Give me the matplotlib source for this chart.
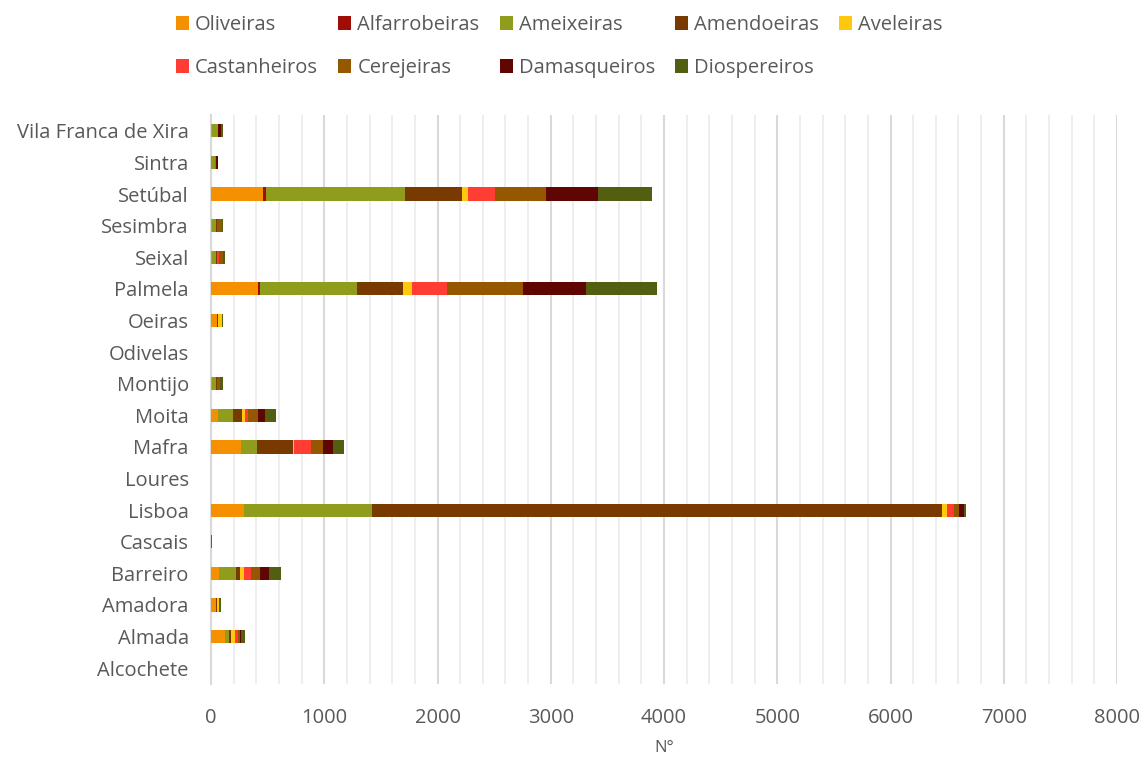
import numpy as np
import matplotlib
matplotlib.use('Agg')
import matplotlib.pyplot as plt

plt.rcParams['font.family'] = ['Open Sans', 'DejaVu Sans']

# concelhos, de baixo para cima
concelhos = ['Alcochete', 'Almada', 'Amadora', 'Barreiro', 'Cascais', 'Lisboa', 'Loures',
	'Mafra', 'Moita', 'Montijo', 'Odivelas', 'Oeiras', 'Palmela', 'Seixal', 'Sesimbra',
	'Setúbal', 'Sintra', 'Vila Franca de Xira']

oliveiras     = [0, 128, 40, 75, 0, 287, 0, 269, 66, 10, 0, 49, 419, 13, 10, 455, 0, 5]
alfarrobeiras = [0, 0, 0, 0, 0, 0, 0, 0, 0, 0, 0, 0, 18, 0, 0, 35, 0, 0]
ameixeiras    = [0, 27, 0, 150, 0, 1139, 0, 133, 124, 36, 0, 0, 848, 27, 30, 1227, 35, 55]
amendoeiras   = [0, 26, 17, 35, 0, 5033, 0, 326, 88, 8, 0, 17, 406, 9, 10, 495, 0, 6]
aveleiras     = [0, 27, 18, 27, 0, 36, 0, 9, 18, 0, 0, 27, 88, 0, 0, 53, 0, 0]
castanheiros  = [0, 26, 0, 62, 0, 70, 0, 150, 35, 0, 0, 0, 309, 18, 0, 247, 10, 0]
cerejeiras    = [0, 18, 0, 88, 12, 44, 0, 106, 80, 27, 0, 0, 663, 35, 45, 450, 0, 0]
damasqueiros  = [0, 17, 0, 71, 0, 44, 0, 80, 70, 0, 0, 0, 556, 0, 0, 451, 17, 18]
diospereiros  = [0, 27, 9, 114, 0, 18, 0, 97, 97, 26, 0, 9, 627, 18, 10, 477, 0, 26]

especies = ['Oliveiras', 'Alfarrobeiras', 'Ameixeiras', 'Amendoeiras', 'Aveleiras',
	'Castanheiros', 'Cerejeiras', 'Damasqueiros', 'Diospereiros']
series = [oliveiras, alfarrobeiras, ameixeiras, amendoeiras, aveleiras,
	castanheiros, cerejeiras, damasqueiros, diospereiros]
cores = ['#F59100', '#A00D06', '#8F9C1C', '#783A00', '#FFC70D',
	'#FF3D33', '#955700', '#600602', '#545E10']

textColor = '#595959'

fig = plt.figure(figsize=(11.44, 7.58), dpi=100)
ax = fig.add_axes([211 / 1144, 1 - 684 / 758, 906 / 1144, 569 / 758])

y = np.arange(len(concelhos))
left = np.zeros(len(concelhos))
handles = []
for nome, vals, cor in zip(especies, series, cores):
	vals = np.array(vals, dtype=float)
	b = ax.barh(y, vals, left=left, height=0.42, color=cor, label=nome, zorder=3)
	handles.append(b)
	left += vals

ax.set_xlim(0, 8000)
ax.set_ylim(-0.5, len(concelhos) - 0.5)
ax.set_yticks(y)
ax.set_yticklabels(concelhos)
ax.set_xticks(np.arange(0, 8001, 1000))
ax.set_xticks(np.arange(0, 8001, 200), minor=True)

# grelha: linhas menores claras, maiores mais escuras
ax.grid(axis='x', which='minor', color='#EEEEEE', linewidth=1.4, zorder=0)
ax.grid(axis='x', which='major', color='#D9D9D9', linewidth=1.5, zorder=1)
ax.grid(axis='y', visible=False)

for s in ['top', 'right', 'bottom']:
	ax.spines[s].set_visible(False)
ax.spines['left'].set_color('#D9D9D9')
ax.spines['left'].set_linewidth(1.5)

ax.tick_params(axis='both', which='both', length=0, labelsize=14.5, labelcolor=textColor)
ax.tick_params(axis='x', pad=17)
ax.tick_params(axis='y', pad=16)
ax.set_xlabel('N°', fontsize=12, color=textColor, labelpad=9)

# legenda preenchida por linhas
ordem = [0, 5, 1, 6, 2, 7, 3, 8, 4]
leg = fig.legend([handles[i] for i in ordem], [especies[i] for i in ordem],
	ncol=5, loc='upper center', bbox_to_anchor=(0.489, 1.004), frameon=False,
	fontsize=14.5, handlelength=0.65, handleheight=0.65, handletextpad=0.3,
	columnspacing=1.0, labelspacing=1.15)
for t in leg.get_texts():
	t.set_color(textColor)

fig.savefig('out.png', dpi=100)
